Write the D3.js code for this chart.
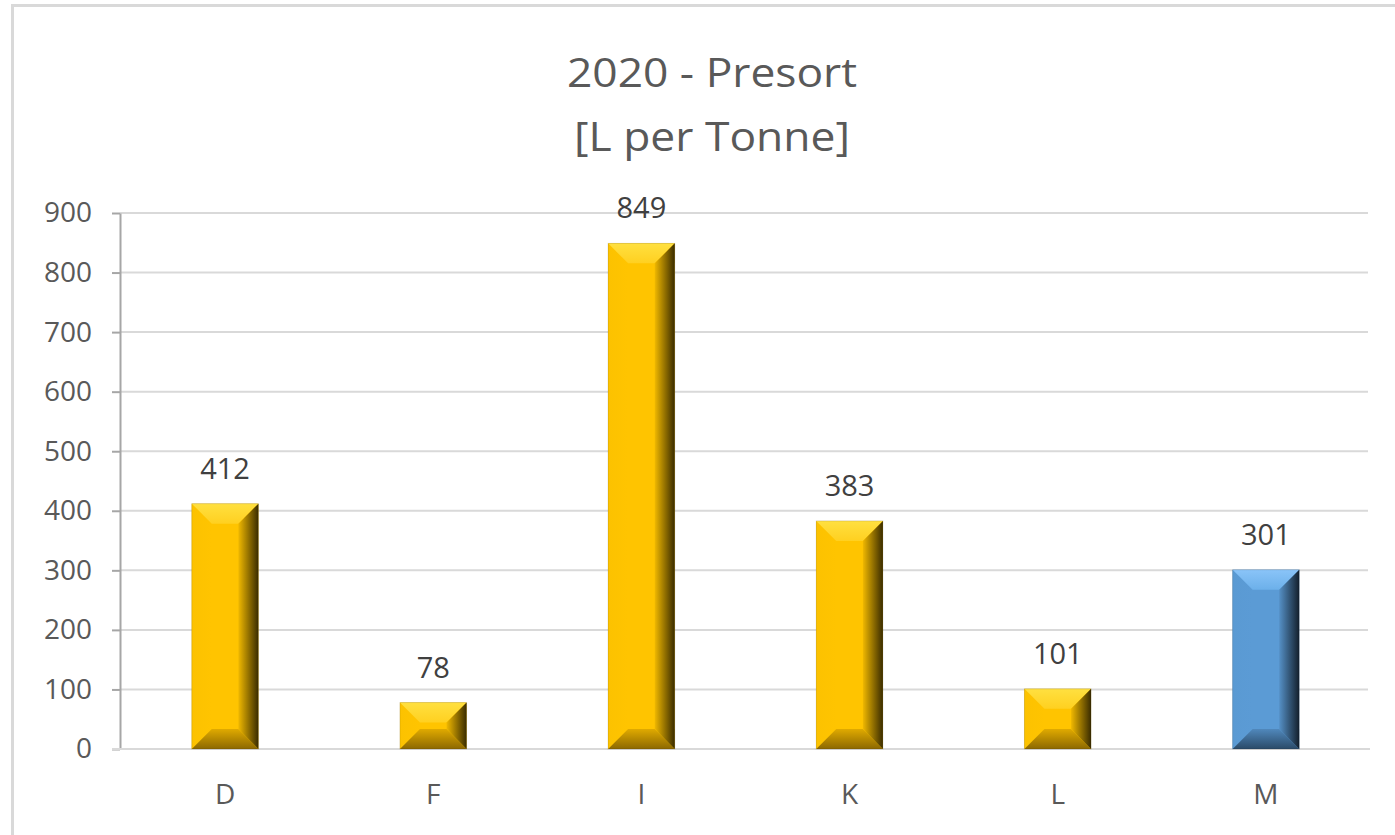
<!DOCTYPE html>
<html><head><meta charset="utf-8">
<script src="https://cdn.jsdelivr.net/npm/d3@7"></script>
<style>html,body{margin:0;padding:0;background:#fff;} svg{display:block;}</style>
</head><body>
<svg id="c" width="1395" height="835"></svg>
<script>
const categories = ["D","F","I","K","L","M"];
const values = [412, 78, 849, 383, 101, 301];
const yTicks = [0,100,200,300,400,500,600,700,800,900];
const titleLines = ["2020 - Presort", "[L per Tonne]"];
const highlight = ["M"];

const svg = d3.select("#c");
const font = "'Open Sans', 'Noto Sans', sans-serif";

// outer chart border (only top & left visible)
svg.append("line").attr("x1",12.5).attr("x2",1395).attr("y1",5.5).attr("y2",5.5).attr("stroke","#d9d9d9").attr("stroke-width",3);
svg.append("line").attr("x1",12.5).attr("x2",12.5).attr("y1",4).attr("y2",835).attr("stroke","#d9d9d9").attr("stroke-width",3);

const x = d3.scaleBand().domain(categories).range([121,1370]).paddingInner(0.68).paddingOuter(0.34);
const y = d3.scaleLinear().domain([0,900]).range([749,213]);

// gridlines
svg.append("g").selectAll("line").data(yTicks).join("line")
  .attr("x1",120).attr("x2",1368).attr("y1",d=>y(d)).attr("y2",d=>y(d))
  .attr("stroke","#d9d9d9").attr("stroke-width",2);

// y axis
const yAxis = d3.axisLeft(y).tickValues(yTicks).tickSize(8).tickPadding(20).tickSizeOuter(0);
const ga = svg.append("g").attr("transform","translate(120,0)").call(yAxis);
ga.select(".domain").attr("stroke","#a6a6a6").attr("stroke-width",2);
ga.selectAll(".tick line").attr("stroke","#a6a6a6").attr("stroke-width",2);
ga.selectAll(".tick text").attr("fill","#595959").style("font-family",font).style("font-size","28px");
// baseline extension
svg.append("line").attr("x1",112).attr("x2",1370).attr("y1",y(0)).attr("y2",y(0)).attr("stroke","#d9d9d9").attr("stroke-width",2);

// x axis labels
const gx = svg.append("g").attr("transform","translate(0,"+y(0)+")")
  .call(d3.axisBottom(x).tickSize(0).tickPadding(35));
gx.select(".domain").remove();
gx.selectAll(".tick text").attr("fill","#595959").style("font-family",font).style("font-size","28px");

// gradients
const defs = svg.append("defs");
function grad(id, x1,y1,x2,y2, stops){
  const g = defs.append("linearGradient").attr("id",id).attr("x1",x1).attr("y1",y1).attr("x2",x2).attr("y2",y2);
  stops.forEach(s=>g.append("stop").attr("offset",s[0]).attr("stop-color",s[1]));
}
const pal = {
  gold: {face:"#ffc400", top:["#ffe040","#ffd020"], bottom:["#e0aa00","#8c6800"], right:["#f0b800","#3a2c00"], left:["#fcc200","#ffc400"]},
  blue: {face:"#5b9bd5", top:["#8ac4f8","#6cb0ea"], bottom:["#5088bc","#2a4a68"], right:["#5590c6","#13202d"], left:["#5a9ad3","#5b9bd5"]}
};
Object.entries(pal).forEach(([k,p])=>{
  grad(k+"Top","0","0","0","1",[[0,p.top[0]],[1,p.top[1]]]);
  grad(k+"Bottom","0","0","0","1",[[0,p.bottom[0]],[1,p.bottom[1]]]);
  grad(k+"Right","0","0","1","0",[[0,p.right[0]],[1,p.right[1]]]);
  grad(k+"Left","0","0","1","0",[[0,p.left[0]],[1,p.left[1]]]);
});

// bars
const data = categories.map((c,i)=>({c, v:values[i]}));
const bars = svg.append("g").selectAll("g").data(data).join("g");
bars.each(function(d){
  const g = d3.select(this);
  const k = highlight.includes(d.c) ? "blue" : "gold";
  const x0 = x(d.c), w = x.bandwidth(), y0 = y(d.v), h = y(0)-y(d.v);
  const b = Math.min(20, h/2, w/2);
  const x1 = x0+w, y1 = y0+h;
  g.append("rect").attr("x",x0).attr("y",y0).attr("width",w).attr("height",h).attr("fill",pal[k].face);
  const poly = (pts, fill) => g.append("polygon").attr("points",pts.map(p=>p.join(",")).join(" ")).attr("fill",fill);
  poly([[x0,y0],[x0+b,y0+b],[x0+b,y1-b],[x0,y1]], `url(#${k}Left)`);
  poly([[x0,y0],[x1,y0],[x1-b,y0+b],[x0+b,y0+b]], `url(#${k}Top)`);
  poly([[x0+b,y1-b],[x1-b,y1-b],[x1,y1],[x0,y1]], `url(#${k}Bottom)`);
  poly([[x1-b,y0+b],[x1,y0],[x1,y1],[x1-b,y1-b]], `url(#${k}Right)`);
  g.append("rect").attr("x",x0).attr("y",y0).attr("width",w).attr("height",h).attr("fill","none").attr("stroke","rgba(0,0,0,0.12)").attr("stroke-width",1);
});

// data labels
svg.append("g").selectAll("text").data(data).join("text")
  .attr("x",d=>x(d.c)+x.bandwidth()/2).attr("y",d=>y(d.v)-25)
  .attr("text-anchor","middle").attr("fill","#404040")
  .style("font-family",font).style("font-size","29px").text(d=>d.v);

// title
const titleWidths = [290, 276];
svg.append("g").selectAll("text").data(titleLines).join("text")
  .attr("x",712).attr("y",(d,i)=>87+i*64).attr("text-anchor","middle")
  .attr("textLength",(d,i)=>titleWidths[i]).attr("lengthAdjust","spacingAndGlyphs")
  .attr("fill","#595959").style("font-family",font).style("font-size","40px").text(d=>d);
</script>
</body></html>
